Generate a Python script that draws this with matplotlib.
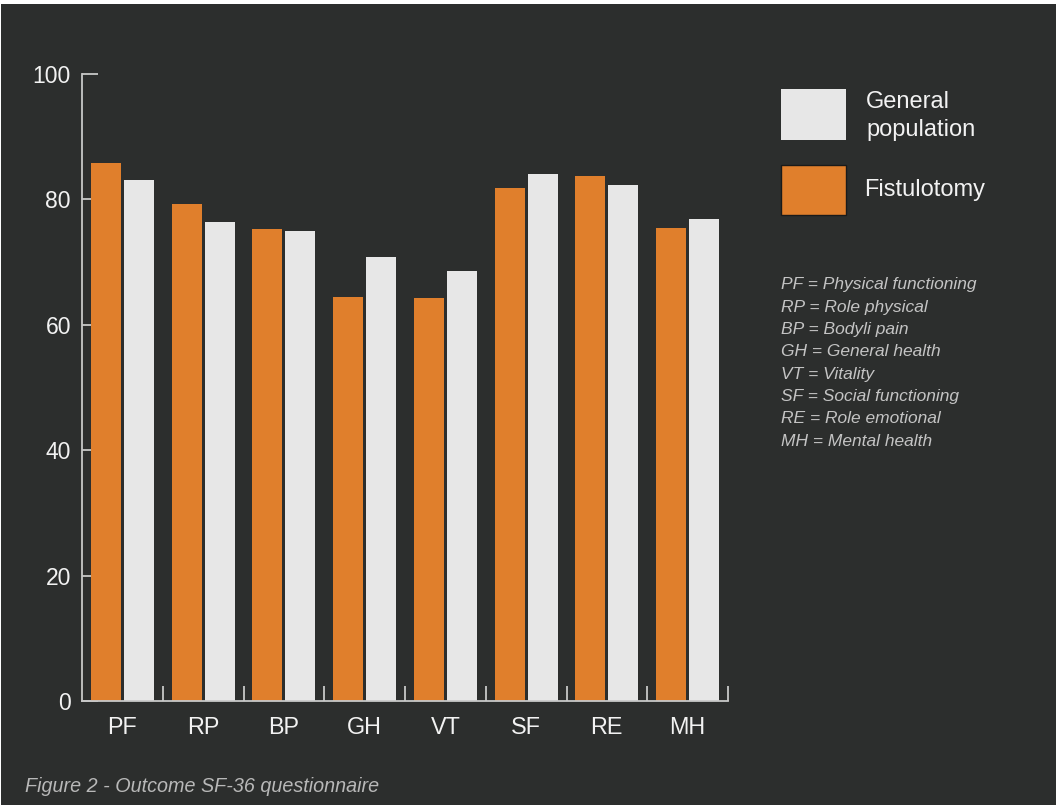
import matplotlib
matplotlib.use("Agg")
import matplotlib.pyplot as plt
from matplotlib.patches import Rectangle
import numpy as np

plt.rcParams['font.family'] = ['Liberation Sans', 'DejaVu Sans']

# SF-36 domain scores
categories = ["PF", "RP", "BP", "GH", "VT", "SF", "RE", "MH"]
fistulotomy = [85.8, 79.3, 75.3, 64.4, 64.3, 81.8, 83.7, 75.4]
general_population = [83.1, 76.4, 75.0, 70.8, 68.6, 84.0, 82.3, 76.9]
y_ticks = [0, 20, 40, 60, 80, 100]
abbreviations = [
    "PF = Physical functioning",
    "RP = Role physical",
    "BP = Bodyli pain",
    "GH = General health",
    "VT = Vitality",
    "SF = Social functioning",
    "RE = Role emotional",
    "MH = Mental health",
]
caption = "Figure 2 - Outcome SF-36 questionnaire"

BG = "#2c2e2d"
ORANGE = "#e07f2c"
LIGHT = "#e7e7e7"
AXIS = "#c8c8c8"
TEXT = "#f2f2f2"

W, H = 1057, 805
fig = plt.figure(figsize=(W / 100, H / 100), dpi=100)
fig.patch.set_facecolor("white")

# dark panel behind everything
fig.patches.append(Rectangle((1 / W, 0), (W - 2) / W, (H - 4) / H,
                             transform=fig.transFigure, facecolor=BG,
                             edgecolor="none", zorder=-10))

def px(x, y):
    """pixel position (from top-left) to figure fraction"""
    return x / W, 1 - y / H

ax = fig.add_axes([82 / W, (H - 701) / H, (728 - 82) / W, (701 - 74) / H])
ax.set_facecolor("none")
ax.set_zorder(1)

x = np.arange(len(categories))
bw = 0.372
off = 0.204
ax.bar(x - off, fistulotomy, width=bw, color=ORANGE, zorder=2)
ax.bar(x + off, general_population, width=bw, color=LIGHT, zorder=2)

ax.set_xlim(-0.5, len(categories) - 0.5)
ax.set_ylim(0, 100)
ax.set_axisbelow(True)

for s in ["top", "right"]:
    ax.spines[s].set_visible(False)
for s in ["left", "bottom"]:
    ax.spines[s].set_color(AXIS)
    ax.spines[s].set_linewidth(1.3)

ax.set_yticks(y_ticks)
ax.set_yticklabels([str(v) for v in y_ticks])
ax.tick_params(axis="y", direction="in", length=11.5, width=1.3, color=AXIS,
               labelsize=16.5, labelcolor=TEXT, pad=8)

ax.set_xticks(x)
ax.set_xticklabels(categories)
ax.set_xticks(np.arange(len(categories)) + 0.5, minor=True)
ax.tick_params(axis="x", which="major", length=0, labelsize=16.8,
               labelcolor=TEXT, pad=10.5)
ax.tick_params(axis="x", which="minor", direction="in", length=11,
               width=1.3, color=AXIS)

# legend boxes
for (y0, y1, fc, ec) in [(89, 140, LIGHT, "none"), (165, 215, ORANGE, "#1a1a1a")]:
    fx, fy = px(781, y1)
    fig.patches.append(Rectangle((fx, fy), 65 / W, (y1 - y0) / H,
                                 transform=fig.transFigure, facecolor=fc,
                                 edgecolor=ec, linewidth=1, zorder=3))
fig.text(*px(866, 116), "General\npopulation", fontsize=17, color=TEXT,
         va="center", ha="left", linespacing=1.38)
fig.text(*px(864, 190), "Fistulotomy", fontsize=17, color=TEXT,
         va="center", ha="left")

# abbreviation key
for i, line in enumerate(abbreviations):
    fig.text(*px(781, 285 + i * 22.3), line, fontsize=12.5, style="italic",
             color="#c4c4c4", va="center", ha="left")

fig.text(*px(25, 786), caption, fontsize=14.2, style="italic",
         color="#b8b8b8", va="center", ha="left")

fig.savefig("out.png", dpi=100, facecolor=fig.get_facecolor())
